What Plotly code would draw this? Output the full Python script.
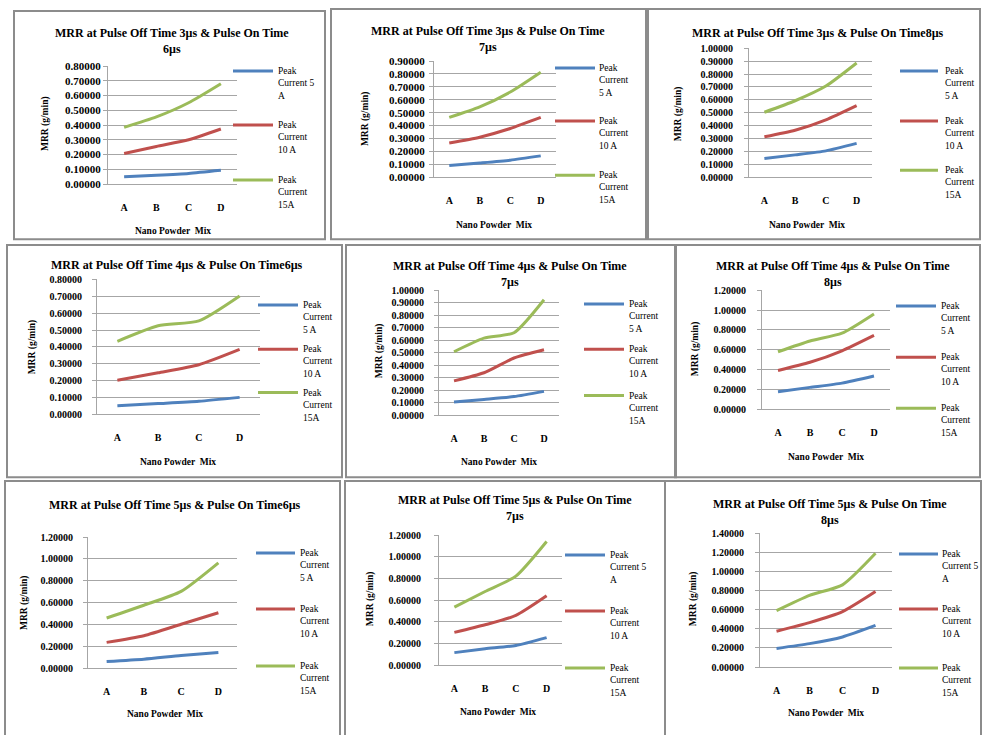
import plotly.graph_objects as go

W, H = 982, 735

categories = ["A", "B", "C", "D"]
current_labels = ["Peak Current 5 A", "Peak Current 10 A", "Peak Current 15A"]
colors = ["#4F81BD", "#C0504D", "#9BBB59"]

# MRR (g/min)
off3_on6_5A = [0.050, 0.060, 0.072, 0.093]
off3_on6_10A = [0.207, 0.255, 0.300, 0.373]
off3_on6_15A = [0.384, 0.455, 0.551, 0.680]
off3_on7_5A = [0.090, 0.110, 0.132, 0.165]
off3_on7_10A = [0.265, 0.310, 0.377, 0.463]
off3_on7_15A = [0.463, 0.545, 0.660, 0.814]
off3_on8_5A = [0.145, 0.173, 0.204, 0.262]
off3_on8_10A = [0.313, 0.364, 0.445, 0.555]
off3_on8_15A = [0.504, 0.593, 0.707, 0.886]
off4_on6_5A = [0.050, 0.063, 0.077, 0.100]
off4_on6_10A = [0.202, 0.246, 0.294, 0.385]
off4_on6_15A = [0.433, 0.525, 0.554, 0.702]
off4_on7_5A = [0.105, 0.126, 0.149, 0.191]
off4_on7_10A = [0.275, 0.340, 0.458, 0.524]
off4_on7_15A = [0.508, 0.617, 0.660, 0.924]
off4_on8_5A = [0.178, 0.221, 0.264, 0.336]
off4_on8_10A = [0.392, 0.474, 0.590, 0.745]
off4_on8_15A = [0.580, 0.689, 0.768, 0.962]
off5_on6_5A = [0.060, 0.081, 0.115, 0.142]
off5_on6_10A = [0.235, 0.296, 0.401, 0.507]
off5_on6_15A = [0.459, 0.576, 0.703, 0.965]
off5_on7_5A = [0.115, 0.151, 0.181, 0.254]
off5_on7_10A = [0.302, 0.372, 0.459, 0.640]
off5_on7_15A = [0.535, 0.680, 0.822, 1.142]
off5_on8_5A = [0.195, 0.245, 0.315, 0.435]
off5_on8_10A = [0.375, 0.465, 0.580, 0.790]
off5_on8_15A = [0.590, 0.750, 0.860, 1.190]

T = "MRR at Pulse Off Time {}µs & Pulse On Time"
LEG_A = ["Peak<br>Current 5<br>A", "Peak<br>Current<br>10 A", "Peak<br>Current<br>15A"]
LEG_B = ["Peak<br>Current<br>5 A", "Peak<br>Current<br>10 A", "Peak<br>Current<br>15A"]

panels = [
    dict(title=T.format(3) + "<br>6µs", series=[off3_on6_5A, off3_on6_10A, off3_on6_15A], leg=LEG_A,
         ymax=0.8, dtick=0.1, box=(14, 5, 325, 237), plot=(108, 237, 61, 181), tf=11, gap=5,
         title_xy=(172, 36), yt=(45, 120), xt=(173, 229), lx=(233, 273), ly=(66, 121, 177), ltx=276),
    dict(title=T.format(3) + "<br>7µs", series=[off3_on7_5A, off3_on7_10A, off3_on7_15A], leg=LEG_B,
         ymax=0.9, dtick=0.1, box=(331, 3, 646, 237), plot=(434, 556, 56, 174), tf=11, gap=8,
         title_xy=(488, 34), yt=(365, 115), xt=(494, 223), lx=(555, 595), ly=(63, 117, 172), ltx=597),
    dict(title=T.format(3) + "8µs", series=[off3_on8_5A, off3_on8_10A, off3_on8_15A], leg=LEG_B,
         ymax=1.0, dtick=0.1, box=(648, 3, 980, 237), plot=(749, 872, 43, 174), tf=10, gap=15,
         title_xy=(818, 27), yt=(678, 110), xt=(807, 223), lx=(900, 938), ly=(66, 117, 167), ltx=943),
    dict(title=T.format(4) + "6µs", series=[off4_on6_5A, off4_on6_10A, off4_on6_15A], leg=LEG_B,
         ymax=0.8, dtick=0.1, box=(7, 243, 342, 479), plot=(97, 260, 278, 415), tf=10, gap=14,
         title_xy=(177, 263), yt=(32, 346), xt=(178, 464), lx=(258, 298), ly=(304, 349, 393), ltx=301),
    dict(title=T.format(4) + "<br>7µs", series=[off4_on7_5A, off4_on7_10A, off4_on7_15A], leg=LEG_B,
         ymax=1.0, dtick=0.1, box=(346, 243, 676, 479), plot=(439, 559, 289, 416), tf=10, gap=14,
         title_xy=(510, 272), yt=(379, 351), xt=(499, 464), lx=(584, 624), ly=(303, 349, 396), ltx=627),
    dict(title=T.format(4) + "<br>8µs", series=[off4_on8_5A, off4_on8_10A, off4_on8_15A], leg=LEG_B,
         ymax=1.2, dtick=0.2, box=(675, 243, 980, 479), plot=(762, 890, 289, 410), tf=10, gap=15,
         title_xy=(833, 272), yt=(695, 349), xt=(826, 458), lx=(896, 936), ly=(305, 357, 409), ltx=939),
    dict(title=T.format(5) + "6µs", series=[off5_on6_5A, off5_on6_10A, off5_on6_15A], leg=LEG_B,
         ymax=1.2, dtick=0.2, box=(5, 483, 340, 745), plot=(88, 237, 540, 673), tf=10, gap=14,
         title_xy=(175, 507), yt=(24, 607), xt=(165, 720), lx=(256, 295), ly=(556, 613, 671), ltx=298),
    dict(title=T.format(5) + "<br>7µs", series=[off5_on7_5A, off5_on7_10A, off5_on7_15A], leg=LEG_A,
         ymax=1.2, dtick=0.2, box=(345, 483, 665, 745), plot=(439, 562, 538, 670), tf=10, gap=17,
         title_xy=(515, 510), yt=(370, 603), xt=(498, 718), lx=(565, 605), ly=(558, 615, 673), ltx=608),
    dict(title=T.format(5) + "<br>8µs", series=[off5_on8_5A, off5_on8_10A, off5_on8_15A], leg=LEG_A,
         ymax=1.4, dtick=0.2, box=(665, 483, 981, 745), plot=(760, 892, 536, 672), tf=10, gap=15,
         title_xy=(830, 514), yt=(693, 603), xt=(826, 719), lx=(899, 938), ly=(557, 613, 673), ltx=940),
]

def px(x):
    return x / W

def py(y):
    return 1 - y / H

FONT = "Liberation Serif"
GRID = "#A6A6A6"

fig = go.Figure()
shapes = []
annotations = []
layout_axes = {}

for i, p in enumerate(panels):
    n = i + 1
    xa = "x" if n == 1 else f"x{n}"
    ya = "y" if n == 1 else f"y{n}"
    xkey = "xaxis" if n == 1 else f"xaxis{n}"
    ykey = "yaxis" if n == 1 else f"yaxis{n}"
    l, r, t, b = p["plot"]

    # panel frame
    x0, y0, x1, y1 = p["box"]
    shapes.append(dict(type="rect", xref="paper", yref="paper", x0=px(x0), x1=px(x1),
                       y0=py(y1), y1=py(y0), line=dict(color="#8C8C8C", width=2),
                       fillcolor="rgba(0,0,0,0)", layer="below"))

    for k, vals in enumerate(p["series"]):
        fig.add_trace(go.Scatter(x=categories, y=vals, mode="lines", name=current_labels[k],
                                 line=dict(color=colors[k], width=3, shape="spline", smoothing=0.6),
                                 xaxis=xa, yaxis=ya, showlegend=False))
        # legend entry
        lyy = p["ly"][k]
        shapes.append(dict(type="line", xref="paper", yref="paper", x0=px(p["lx"][0]), x1=px(p["lx"][1]),
                           y0=py(lyy), y1=py(lyy), line=dict(color=colors[k], width=3)))
        annotations.append(dict(xref="paper", yref="paper", x=px(p["ltx"]), y=py(lyy - 7),
                                xanchor="left", yanchor="top", align="left", showarrow=False,
                                text=p["leg"][k], font=dict(family=FONT, size=9.5, color="black")))

    layout_axes[xkey] = dict(domain=[px(l), px(r)], anchor=ya, type="category",
                             range=[-0.5, 3.5], showgrid=False, zeroline=False,
                             showline=True, linecolor=GRID, linewidth=1, ticks="",
                             ticklabelstandoff=14,
                             tickfont=dict(family=FONT, size=10, color="black", weight="bold"),
                             fixedrange=True)
    layout_axes[ykey] = dict(domain=[py(b), py(t)], anchor=xa, range=[0, p["ymax"]],
                             tick0=0, dtick=p["dtick"], tickformat=".5f",
                             showgrid=True, gridcolor=GRID, gridwidth=1, zeroline=False,
                             showline=True, linecolor=GRID, linewidth=1,
                             ticks="outside", ticklen=4, tickcolor=GRID,
                             ticklabelstandoff=max(p["gap"] - 6, 0),
                             tickfont=dict(family=FONT, size=p["tf"], color="black", weight="bold"),
                             fixedrange=True)

    annotations.append(dict(xref="paper", yref="paper", x=px(p["title_xy"][0]), y=py(p["title_xy"][1]),
                            xanchor="center", yanchor="middle", showarrow=False, text=p["title"],
                            font=dict(family=FONT, size=12, color="black", weight="bold")))
    annotations.append(dict(xref="paper", yref="paper", x=px(p["yt"][0]), y=py(p["yt"][1]),
                            xanchor="center", yanchor="middle", showarrow=False, textangle=-90,
                            text="MRR (g/min)",
                            font=dict(family=FONT, size=9.5, color="black", weight="bold")))
    annotations.append(dict(xref="paper", yref="paper", x=px(p["xt"][0]), y=py(p["xt"][1]),
                            xanchor="center", yanchor="middle", showarrow=False,
                            text="Nano Powder  Mix",
                            font=dict(family=FONT, size=9.5, color="black", weight="bold")))

fig.update_layout(width=W, height=H, margin=dict(l=0, r=0, t=0, b=0),
                  paper_bgcolor="white", plot_bgcolor="white",
                  shapes=shapes, annotations=annotations, showlegend=False, **layout_axes)

fig.write_html("out.html", config={"displayModeBar": False})
